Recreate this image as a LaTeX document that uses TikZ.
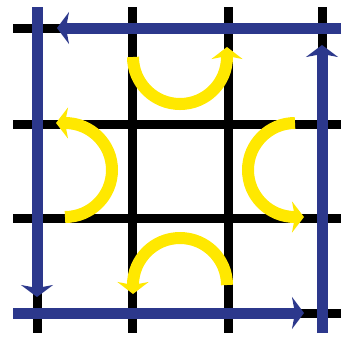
\documentclass[tikz,border=0pt]{standalone}
\usetikzlibrary{arrows.meta}

\definecolor{laneblue}{RGB}{44,56,140}
\definecolor{turnyellow}{RGB}{255,232,0}

\begin{document}
\begin{tikzpicture}[
    x=1pt, y=-1pt,
    gridline/.style={draw=black, line width=9pt},
    lane/.style={draw=laneblue, line width=11pt, -{Stealth[length=12pt, width=32pt, inset=3pt]}},
    turn/.style={draw=turnyellow, line width=12pt, -{Stealth[length=12pt, width=31pt, inset=3pt]}}
]
\useasboundingbox (0,0) rectangle (342,338);

% Street grid
\foreach \x in {37,132,228,322}
    \draw[gridline] (\x,7) -- (\x,333);
\foreach \y in {28,124,218,313}
    \draw[gridline] (13,\y) -- (341,\y);

% Outer ring of lanes
\coordinate (ne) at (341,28);
\coordinate (nw) at (37,7);
\coordinate (sw) at (13,313);
\coordinate (se) at (322,333);
\draw[lane] (ne) -- (57,28);
\draw[lane] (nw) -- (37,297);
\draw[lane] (sw) -- (304,313);
\draw[lane] (se) -- (322,45);

% U-turns round the centre block
\coordinate (topturn) at (133,57);
\coordinate (leftturn) at (65,217);
\coordinate (rightturn) at (295,123);
\coordinate (bottomturn) at (227,285);
\draw[turn] (topturn) arc[start angle=180, end angle=0, radius=47] -- ++(0,-10);
\draw[turn] (leftturn) arc[start angle=90, end angle=-90, radius=47] -- ++(-9,0);
\draw[turn] (rightturn) arc[start angle=270, end angle=90, radius=47] -- ++(9,0);
\draw[turn] (bottomturn) arc[start angle=0, end angle=-180, radius=47] -- ++(0,9);

\end{tikzpicture}
\end{document}
